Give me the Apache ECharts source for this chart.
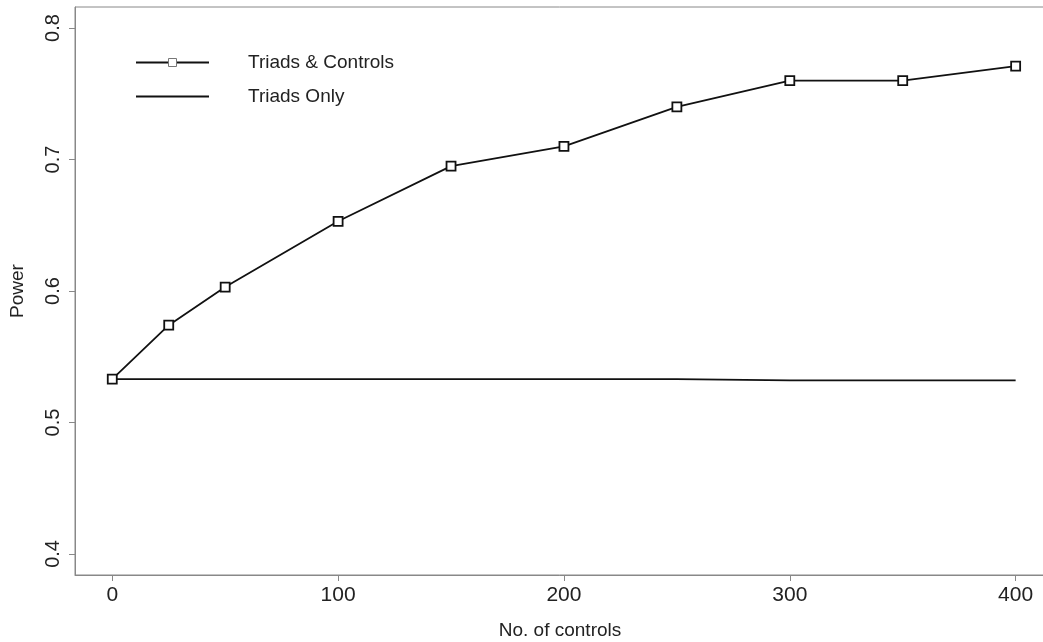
<!DOCTYPE html>
<html>
<head>
<meta charset="utf-8">
<script src="https://cdn.jsdelivr.net/npm/echarts@6/dist/echarts.min.js"></script>
<style>
html,body{margin:0;padding:0;background:#fff;}
#main{width:1043px;height:642px;}
</style>
</head>
<body>
<div id="main"></div>
<script>
var controls = [0, 25, 50, 100, 150, 200, 250, 300, 350, 400];
var triadsControls = [0.533, 0.574, 0.603, 0.653, 0.695, 0.710, 0.740, 0.760, 0.760, 0.771];
var triadsOnly = [0.533, 0.533, 0.533, 0.533, 0.533, 0.533, 0.533, 0.532, 0.532, 0.532];
var xTicks = [0, 100, 200, 300, 400];
var yTicks = [0.4, 0.5, 0.6, 0.7, 0.8];
var seriesNames = ['Triads & Controls', 'Triads Only'];

function pairs(xs, ys) { return xs.map(function (x, i) { return [x, ys[i]]; }); }

var font = 'Liberation Sans, Arial, sans-serif';
var chart = echarts.init(document.getElementById('main'), null, {renderer: 'canvas'});
chart.setOption({
  animation: false,
  backgroundColor: '#fff',
  grid: {left: 75, top: 7, width: 970, height: 568, show: true, borderColor: '#888', borderWidth: 1,
    containLabel: false, outerBoundsMode: 'none'},
  legend: {
    orient: 'vertical', left: 130, top: 48, itemWidth: 73, itemHeight: 10, itemGap: 15,
    textStyle: {fontFamily: font, fontSize: 19, color: '#222', padding: [0, 0, 0, 34]},
    data: [
      {name: seriesNames[0], itemStyle: {color: '#fff', borderColor: '#777', borderWidth: 1}},
      {name: seriesNames[1], itemStyle: {opacity: 0}}
    ]
  },
  xAxis: {
    type: 'value', min: -16.5, max: 413,
    name: 'No. of controls', nameLocation: 'middle', nameGap: 46,
    nameTextStyle: {fontFamily: font, fontSize: 19, color: '#222'},
    axisLine: {show: true, onZero: false, lineStyle: {color: '#888', width: 1}},
    axisTick: {show: true, customValues: xTicks, length: 6, lineStyle: {color: '#888'}},
    axisLabel: {customValues: xTicks, fontFamily: font, fontSize: 21, color: '#222', margin: 10},
    splitLine: {show: false}
  },
  yAxis: {
    type: 'value', min: 0.384, max: 0.816,
    name: 'Power', nameLocation: 'middle', nameGap: 48, nameRotate: 90,
    nameTextStyle: {fontFamily: font, fontSize: 19, color: '#222'},
    axisLine: {show: true, onZero: false, lineStyle: {color: '#888', width: 1}},
    axisTick: {show: true, customValues: yTicks, length: 6, lineStyle: {color: '#888'}},
    axisLabel: {customValues: yTicks, rotate: 90, fontFamily: font, fontSize: 20, color: '#222', margin: 12,
      formatter: function (v) { return v.toFixed(1); }},
    splitLine: {show: false}
  },
  series: [
    {
      name: seriesNames[0], type: 'line', data: pairs(controls, triadsControls),
      symbol: 'rect', symbolSize: 9, showSymbol: true,
      lineStyle: {color: '#111', width: 1.8},
      itemStyle: {color: '#fff', borderColor: '#111', borderWidth: 1.8},
      z: 3
    },
    {
      name: seriesNames[1], type: 'line', data: pairs(controls, triadsOnly),
      symbol: 'none', showSymbol: false,
      lineStyle: {color: '#111', width: 1.8},
      itemStyle: {color: '#111'},
      z: 2
    }
  ]
});
</script>
</body>
</html>
